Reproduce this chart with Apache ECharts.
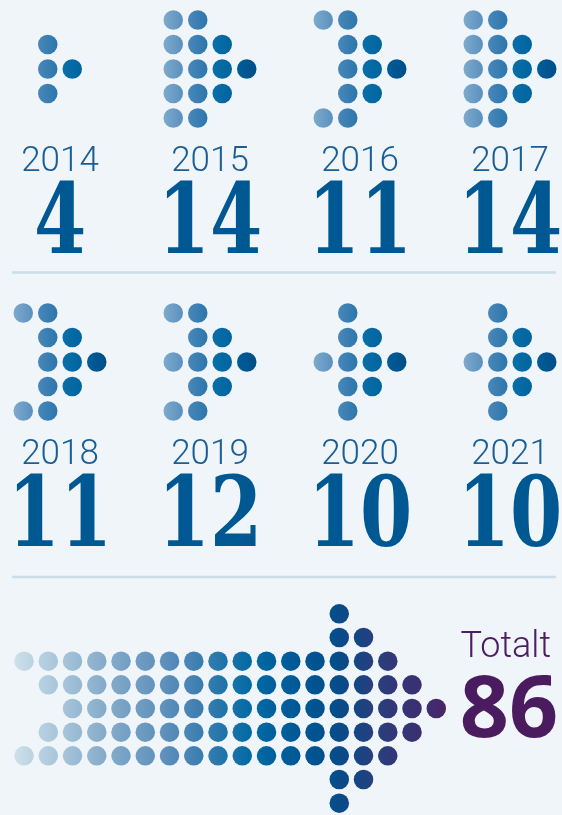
<!DOCTYPE html>
<html>
<head>
<meta charset="utf-8">
<script src="https://cdn.jsdelivr.net/npm/echarts@6/dist/echarts.min.js"></script>
<style>
  html, body { margin: 0; padding: 0; background: #eff5f8; }
  #chart { width: 562px; height: 815px; }
</style>
</head>
<body>
<div id="chart"></div>
<script>
// years and the number of cases per year
const years = ['2014', '2015', '2016', '2017', '2018', '2019', '2020', '2021']
const counts = [4, 14, 11, 14, 11, 12, 10, 10]
const totalLabel = 'Totalt'
const total = 86

// dot arrows, one string per row, x = dot
const yearPatterns = [
  ['....', '.x..', '.xx.', '.x..', '....'],
  ['xx..', 'xxx.', 'xxxx', 'xxx.', 'xx..'],
  ['xx..', '.xx.', '.xxx', '.xx.', 'xx..'],
  ['xx..', 'xxx.', 'xxxx', 'xxx.', 'xx..'],
  ['xx..', '.xx.', '.xxx', '.xx.', 'xx..'],
  ['xx..', '.xx.', 'xxxx', '.xx.', 'xx..'],
  ['.x..', '.xx.', 'xxxx', '.xx.', '.x..'],
  ['.x..', '.xx.', 'xxxx', '.xx.', '.x..']
]
const totalPattern = [
  '.............x....',
  '.............xx...',
  'xxxxxxxxxxxxxxxx..',
  '.xxxxxxxxxxxxxxxx.',
  '..xxxxxxxxxxxxxxxx',
  '.xxxxxxxxxxxxxxxx.',
  'xxxxxxxxxxxxxxxx..',
  '.............xx...',
  '.............x....'
]

// colours: left/right of each dot column
const yearColors = [
  ['#7eaacc', '#5a90be'],
  ['#4a87b9', '#2b76ac'],
  ['#0a6fa8', '#00659f'],
  ['#005d99', '#004e88']
]
const totalStops = [
  '#cfe1e9', '#b9d2e1', '#a7c5da', '#95b7d1', '#83aac9', '#729ec3', '#6293bd',
  '#4f87b6', '#377caf', '#1a72a9', '#0069a3', '#005f9c', '#005694', '#02508d',
  '#114785', '#293f7c', '#333676', '#3d2e6f', '#4a2567'
]

const chart = echarts.init(document.getElementById('chart'))

function dotsFrom(pattern, colorOf) {
  const out = []
  pattern.forEach((row, r) => {
    row.split('').forEach((ch, c) => {
      if (ch !== 'x') return
      const [a, b] = colorOf(c)
      out.push({
        value: [c, r],
        itemStyle: {
          opacity: 1,
          color: new echarts.graphic.LinearGradient(0, 0, 1, 0, [
            { offset: 0, color: a },
            { offset: 1, color: b }
          ])
        }
      })
    })
  })
  return out
}

const grids = []
const xAxes = []
const yAxes = []
const series = []
const graphics = []

const textBlue = '#1b5e96'
const numBlue = '#005893'

years.forEach((year, i) => {
  const col = i % 4
  const row = Math.floor(i / 4)
  const cx = 60 + 150 * col
  const dy = 293 * row
  grids.push({ left: cx - 49, top: 7.75 + dy, width: 98, height: 122.5 })
  xAxes.push({ gridIndex: i, type: 'value', min: -0.5, max: 3.5, show: false })
  yAxes.push({ gridIndex: i, type: 'value', min: -0.5, max: 4.5, inverse: true, show: false })
  series.push({
    type: 'scatter',
    xAxisIndex: i,
    yAxisIndex: i,
    symbolSize: 19.5,
    silent: true,
    itemStyle: { opacity: 1 },
    data: dotsFrom(yearPatterns[i], c => yearColors[c])
  })
  graphics.push({
    type: 'text',
    x: cx,
    y: 162 + dy,
    style: {
      text: year,
      fill: textBlue,
      font: '300 35px Roboto',
      align: 'center',
      verticalAlign: 'middle'
    }
  })
  graphics.push({
    type: 'text',
    x: cx,
    y: 228 + dy,
    scaleX: 0.86,
    style: {
      text: String(counts[i]),
      fill: numBlue,
      font: 'bold 97px "DejaVu Serif Condensed"',
      align: 'center',
      verticalAlign: 'middle'
    }
  })
})

// total arrow
const ti = years.length
grids.push({ left: 11.9, top: 602, width: 436.5, height: 216 })
xAxes.push({ gridIndex: ti, type: 'value', min: -0.5, max: 17.5, show: false })
yAxes.push({ gridIndex: ti, type: 'value', min: -0.5, max: 8.5, inverse: true, show: false })
series.push({
  type: 'scatter',
  xAxisIndex: ti,
  yAxisIndex: ti,
  symbolSize: 19.5,
  silent: true,
  itemStyle: { opacity: 1 },
  data: dotsFrom(totalPattern, c => [totalStops[c], totalStops[c + 1]])
})

// separators
;[272.5, 577].forEach(y => {
  graphics.push({
    type: 'line',
    shape: { x1: 12, y1: y, x2: 556, y2: y },
    style: { stroke: '#c9dee8', lineWidth: 2.5 }
  })
})

graphics.push({
  type: 'text',
  x: 551,
  y: 648,
  style: {
    text: totalLabel,
    fill: '#4b2063',
    font: '300 36px Roboto',
    align: 'right',
    verticalAlign: 'middle'
  }
})
graphics.push({
  type: 'text',
  x: 509,
  y: 712,
  style: {
    text: String(total),
    fill: '#4a1c5f',
    font: 'bold 86px "Open Sans"',
    align: 'center',
    verticalAlign: 'middle'
  }
})

chart.setOption({
  backgroundColor: '#eff5f8',
  animation: false,
  grid: grids,
  xAxis: xAxes,
  yAxis: yAxes,
  series: series,
  graphic: graphics
})
</script>
</body>
</html>
